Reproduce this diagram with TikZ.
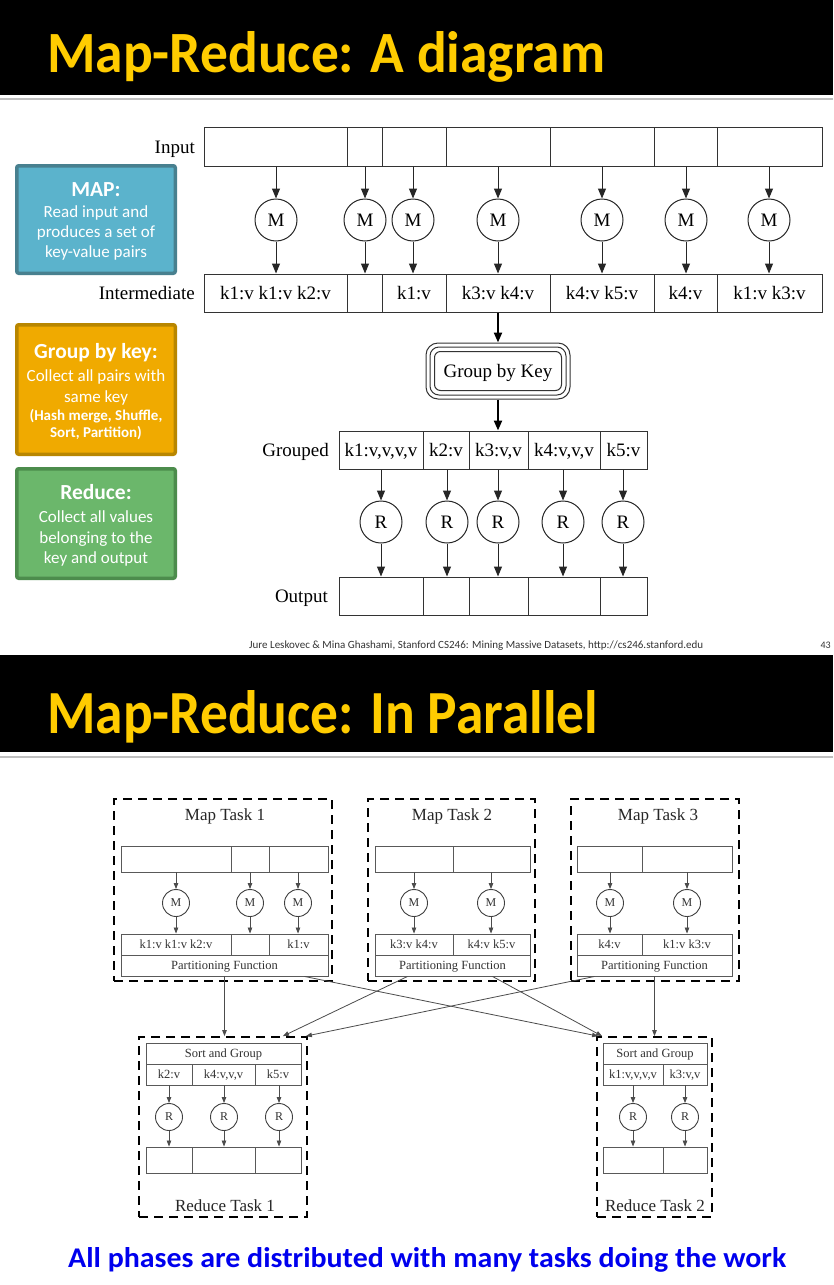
\documentclass[tikz,border=0pt]{standalone}
\usepackage{fontspec}
\usepackage{graphicx}
\setmainfont{Liberation Serif}
\newfontfamily\carl{Carlito}
\usetikzlibrary{arrows.meta}
\definecolor{titleyellow}{RGB}{255,204,0}
\definecolor{mapfill}{RGB}{91,179,204}
\definecolor{mapdraw}{RGB}{72,128,143}
\definecolor{grpfill}{RGB}{240,170,0}
\definecolor{grpdraw}{RGB}{184,134,0}
\definecolor{redfill}{RGB}{107,183,107}
\definecolor{reddraw}{RGB}{76,140,76}
\definecolor{tagblue}{RGB}{0,0,238}
\newcommand\mkcell[7][]{%
  \pgfmathsetmacro\cw{#4-#3}\pgfmathsetmacro\ch{#6-#5}%
  \node[cell,minimum width=\cw pt,minimum height=\ch pt,#1] (#2) at ({(#3+#4)/2},{(#5+#6)/2}) {#7};}
\tikzset{
  cell/.style={draw=black!80, line width=1pt, inner sep=0pt, text height=13pt, text depth=1pt, font=\fontsize{19}{22}\selectfont},
  cellS/.style={draw=black!65, line width=0.9pt, text height=8.5pt, text depth=0.5pt, font=\fontsize{12.5}{14}\selectfont, text=black!80},
  circM/.style={circle, draw=black!85, line width=1pt, minimum size=42pt, inner sep=0pt, font=\fontsize{19}{22}\selectfont},
  circS/.style={circle, draw=black!75, line width=0.9pt, minimum size=27pt, inner sep=0pt, font=\fontsize{12}{14}\selectfont, text=black!80},
  arr/.style={draw=black!85, line width=1pt, -{Triangle[length=10pt,width=8pt]}},
  arrS/.style={draw=black!70, line width=0.8pt, -{Triangle[length=6pt,width=4.5pt]}},
  thickarr/.style={draw=black, line width=2.2pt, -{Triangle[length=10pt,width=8pt]}},
  cluster/.style={draw=black, line width=1.8pt, dash pattern=on 9pt off 6pt, inner sep=0pt},
  lab/.style={anchor=base east, inner sep=0pt, font=\fontsize{19}{22}\selectfont},
  tasktitle/.style={anchor=base, inner sep=0pt, font=\fontsize{17}{20}\selectfont, text=black!85},
  sidebox/.style={line width=3.5pt, rounded corners=2pt, minimum width=158.5pt, inner sep=0pt},
  sidehead/.style={anchor=base, inner sep=0pt, text=white, font=\carl\bfseries\fontsize{21.5}{24}\selectfont},
  sidetext/.style={anchor=base, inner sep=0pt, text=white, font=\carl\fontsize{17}{20}\selectfont},
  sidesmall/.style={anchor=base, inner sep=0pt, text=white, font=\carl\bfseries\fontsize{15}{17}\selectfont},
}
\begin{document}
\begin{tikzpicture}[x=1pt,y=-1pt]
\useasboundingbox (0,0) rectangle (833,1285);
\fill[white] (0,0) rectangle (833,1285);
% ---------------- slide 1 ----------------
\fill[black] (0,0) rectangle (833,95);
\draw[black!25, line width=2pt] (0,99) -- (833,99);
\node[anchor=base west, inner sep=0pt, text=titleyellow] (title1) at (47,72)
  {\resizebox{558pt}{41pt}{\carl\bfseries Map-Reduce: A diagram}};

% side boxes
\node[sidebox, fill=mapfill, draw=mapdraw, minimum height=107.5pt] (mapbox) at (96,219.5) {};
\node[sidehead] (maph) at (96,196) {MAP:};
\node[sidetext] (mapt1) at (96,217) {Read input and};
\node[sidetext] (mapt2) at (96,237) {produces a set of};
\node[sidetext] (mapt3) at (96,257) {key-value pairs};

\node[sidebox, fill=grpfill, draw=grpdraw, minimum height=129.5pt] (grpbox) at (96,389.5) {};
\node[sidehead] (grph) at (96,358) {Group by key:};
\node[sidetext] (grpt1) at (96,381) {Collect all pairs with};
\node[sidetext] (grpt2) at (96,402) {same key};
\node[sidesmall] (grpt3) at (96,420) {(Hash merge, Shuffle,};
\node[sidesmall] (grpt4) at (96,437) {Sort, Partition)};

\node[sidebox, fill=redfill, draw=reddraw, minimum height=109.5pt] (redbox) at (96,523.5) {};
\node[sidehead] (redh) at (96,499) {Reduce:};
\node[sidetext] (redt1) at (96,522) {Collect all values};
\node[sidetext] (redt2) at (96,543) {belonging to the};
\node[sidetext] (redt3) at (96,563) {key and output};

% labels
\node[lab] (linput) at (195,153) {Input};
\node[lab] (linter) at (195,299) {Intermediate};
\node[lab] (lgroup) at (329,456) {Grouped};
\node[lab] (loutput) at (328,602) {Output};

% input row
\mkcell{in1}{204}{347}{127}{166}{}
\mkcell{in2}{347}{382}{127}{166}{}
\mkcell{in3}{382}{446}{127}{166}{}
\mkcell{in4}{446}{550}{127}{166}{}
\mkcell{in5}{550}{654}{127}{166}{}
\mkcell{in6}{654}{717}{127}{166}{}
\mkcell{in7}{717}{822}{127}{166}{}
% intermediate row
\mkcell{im1}{204}{347}{274}{312}{k1:v k1:v k2:v}
\mkcell{im2}{347}{382}{274}{312}{}
\mkcell{im3}{382}{446}{274}{312}{k1:v}
\mkcell{im4}{446}{550}{274}{312}{k3:v k4:v}
\mkcell{im5}{550}{654}{274}{312}{k4:v k5:v}
\mkcell{im6}{654}{717}{274}{312}{k4:v}
\mkcell{im7}{717}{822}{274}{312}{k1:v k3:v}
% map circles
\foreach \i/\x in {1/276,2/365,3/413,4/498,5/602,6/686,7/769}{
  \node[circM] (m\i) at (\x,220) {M};
  \draw[arr] (in\i.south -| m\i) -- (m\i);
  \draw[arr] (m\i) -- (m\i |- im\i.north);
}
% group by key
\node[draw=black!80, line width=1pt, rounded corners=12pt, minimum width=144pt, minimum height=56pt,
      inner sep=0pt, text height=13pt, text depth=1pt, font=\fontsize{19}{22}\selectfont] (gbk) at (498,371) {Group by Key};
\draw[black!80, line width=1pt, rounded corners=9pt] ([shift={(4.5,4.5)}]gbk.north west) rectangle ([shift={(-4.5,-4.5)}]gbk.south east);
\draw[black!80, line width=1pt, rounded corners=6pt] ([shift={(9,9)}]gbk.north west) rectangle ([shift={(-9,-9)}]gbk.south east);
\draw[thickarr] (im4.south) -- (gbk.north);
% grouped row
\mkcell{g1}{339}{423}{431}{469}{k1:v,v,v,v}
\mkcell{g2}{423}{469}{431}{469}{k2:v}
\mkcell{g3}{469}{528}{431}{469}{k3:v,v}
\mkcell{g4}{528}{600}{431}{469}{k4:v,v,v}
\mkcell{g5}{600}{647}{431}{469}{k5:v}
\draw[thickarr] (gbk.south) -- (gbk.south |- g3.north);
% output row
\mkcell{o1}{339}{423}{577}{615}{}
\mkcell{o2}{423}{469}{577}{615}{}
\mkcell{o3}{469}{528}{577}{615}{}
\mkcell{o4}{528}{600}{577}{615}{}
\mkcell{o5}{600}{647}{577}{615}{}
\foreach \i/\x in {1/381,2/447,3/498,4/563,5/623}{
  \node[circM] (r\i) at (\x,522) {R};
  \draw[arr] (g\i.south -| r\i) -- (r\i);
  \draw[arr] (r\i) -- (r\i |- o\i.north);
}
% footer
\node[anchor=base west, inner sep=0pt, text=black!80] (foot) at (249,648)
  {\resizebox{454pt}{!}{\carl Jure Leskovec \& Mina Ghashami, Stanford CS246: Mining Massive Datasets, http://cs246.stanford.edu}};
\node[anchor=base east, inner sep=0pt, text=black!80, font=\carl\fontsize{10}{12}\selectfont] (pnum) at (831,648) {43};

% ---------------- slide 2 ----------------
\fill[black] (0,655) rectangle (833,752);
\draw[black!25, line width=2pt] (0,757) -- (833,757);
\node[anchor=base west, inner sep=0pt, text=titleyellow] (title2) at (47,733)
  {\resizebox{551pt}{43pt}{\carl\bfseries Map-Reduce: In Parallel}};

% Map task 1
\node[cluster, minimum width=218pt, minimum height=182pt] (mt1) at (223,890) {};
\node[tasktitle] (mt1t) at (225,820) {Map Task 1};
\mkcell[cellS]{a1}{121}{231}{846}{872}{}
\mkcell[cellS]{a2}{231}{269}{846}{872}{}
\mkcell[cellS]{a3}{269}{328}{846}{872}{}
\mkcell[cellS]{b1}{121}{231}{934}{955}{k1:v k1:v k2:v}
\mkcell[cellS]{b2}{231}{269}{934}{955}{}
\mkcell[cellS]{b3}{269}{328}{934}{955}{k1:v}
\mkcell[cellS]{pf1}{121}{328}{955}{976}{Partitioning Function}
\foreach \i/\x in {1/176,2/250,3/298}{
  \node[circS] (ma\i) at (\x,903) {M};
  \draw[arrS] (a\i.south -| ma\i) -- (ma\i);
  \draw[arrS] (ma\i) -- (ma\i |- b\i.north);
}
% Map task 2
\node[cluster, minimum width=167pt, minimum height=182pt] (mt2) at (451.5,890) {};
\node[tasktitle] (mt2t) at (452,820) {Map Task 2};
\mkcell[cellS]{c1}{375}{453}{846}{872}{}
\mkcell[cellS]{c2}{453}{530}{846}{872}{}
\mkcell[cellS]{d1}{375}{453}{934}{955}{k3:v k4:v}
\mkcell[cellS]{d2}{453}{530}{934}{955}{k4:v k5:v}
\mkcell[cellS]{pf2}{375}{530}{955}{976}{Partitioning Function}
\foreach \i/\x in {1/414,2/491}{
  \node[circS] (mb\i) at (\x,903) {M};
  \draw[arrS] (c\i.south -| mb\i) -- (mb\i);
  \draw[arrS] (mb\i) -- (mb\i |- d\i.north);
}
% Map task 3
\node[cluster, minimum width=168pt, minimum height=182pt] (mt3) at (655,890) {};
\node[tasktitle] (mt3t) at (658,820) {Map Task 3};
\mkcell[cellS]{e1}{577}{642}{846}{872}{}
\mkcell[cellS]{e2}{642}{732}{846}{872}{}
\mkcell[cellS]{f1}{577}{642}{934}{955}{k4:v}
\mkcell[cellS]{f2}{642}{732}{934}{955}{k1:v k3:v}
\mkcell[cellS]{pf3}{577}{732}{955}{976}{Partitioning Function}
\foreach \i/\x in {1/610,2/687}{
  \node[circS] (mc\i) at (\x,903) {M};
  \draw[arrS] (e\i.south -| mc\i) -- (mc\i);
  \draw[arrS] (mc\i) -- (mc\i |- f\i.north);
}
% Reduce task 1
\node[cluster, minimum width=168pt, minimum height=180pt] (rt1) at (223,1127) {};
\node[tasktitle] (rt1t) at (225,1211) {Reduce Task 1};
\mkcell[cellS]{s1}{146}{301}{1043}{1064}{Sort and Group}
\mkcell[cellS]{h1}{146}{192}{1064}{1085}{k2:v}
\mkcell[cellS]{h2}{192}{255}{1064}{1085}{k4:v,v,v}
\mkcell[cellS]{h3}{255}{301}{1064}{1085}{k5:v}
\mkcell[cellS]{p1}{146}{192}{1147}{1173}{}
\mkcell[cellS]{p2}{192}{255}{1147}{1173}{}
\mkcell[cellS]{p3}{255}{301}{1147}{1173}{}
\foreach \i/\x in {1/169,2/224,3/279}{
  \node[circS] (ra\i) at (\x,1117) {R};
  \draw[arrS] (h\i.south -| ra\i) -- (ra\i);
  \draw[arrS] (ra\i) -- (ra\i |- p\i.north);
}
% Reduce task 2
\node[cluster, minimum width=115pt, minimum height=180pt] (rt2) at (654.5,1127) {};
\node[tasktitle] (rt2t) at (655,1211) {Reduce Task 2};
\mkcell[cellS]{s2}{603}{707}{1043}{1064}{Sort and Group}
\mkcell[cellS]{j1}{603}{663}{1064}{1085}{k1:v,v,v,v}
\mkcell[cellS]{j2}{663}{707}{1064}{1085}{k3:v,v}
\mkcell[cellS]{q1}{603}{663}{1147}{1173}{}
\mkcell[cellS]{q2}{663}{707}{1147}{1173}{}
\foreach \i/\x in {1/633,2/685}{
  \node[circS] (rb\i) at (\x,1117) {R};
  \draw[arrS] (j\i.south -| rb\i) -- (rb\i);
  \draw[arrS] (rb\i) -- (rb\i |- q\i.north);
}
% shuffle edges
\draw[arrS] (pf1.south) -- (pf1.south |- rt1.north);
\draw[arrS] ([xshift=80pt]pf1.south) -- ([xshift=2pt]rt2.north west);
\draw[arrS] ([xshift=-45pt]pf2.south) -- ([xshift=-25pt]rt1.north east);
\draw[arrS] ([xshift=40pt]pf2.south) -- ([xshift=6pt]rt2.north west);
\draw[arrS] ([xshift=-60pt]pf3.south) -- ([xshift=-2pt]rt1.north east);
\draw[arrS] (pf3.south) -- (pf3.south |- rt2.north);

% tagline
\node[anchor=base west, inner sep=0pt, text=tagblue] (tag) at (68,1267)
  {\resizebox{718pt}{20pt}{\carl\bfseries All phases are distributed with many tasks doing the work}};
\end{tikzpicture}
\end{document}
